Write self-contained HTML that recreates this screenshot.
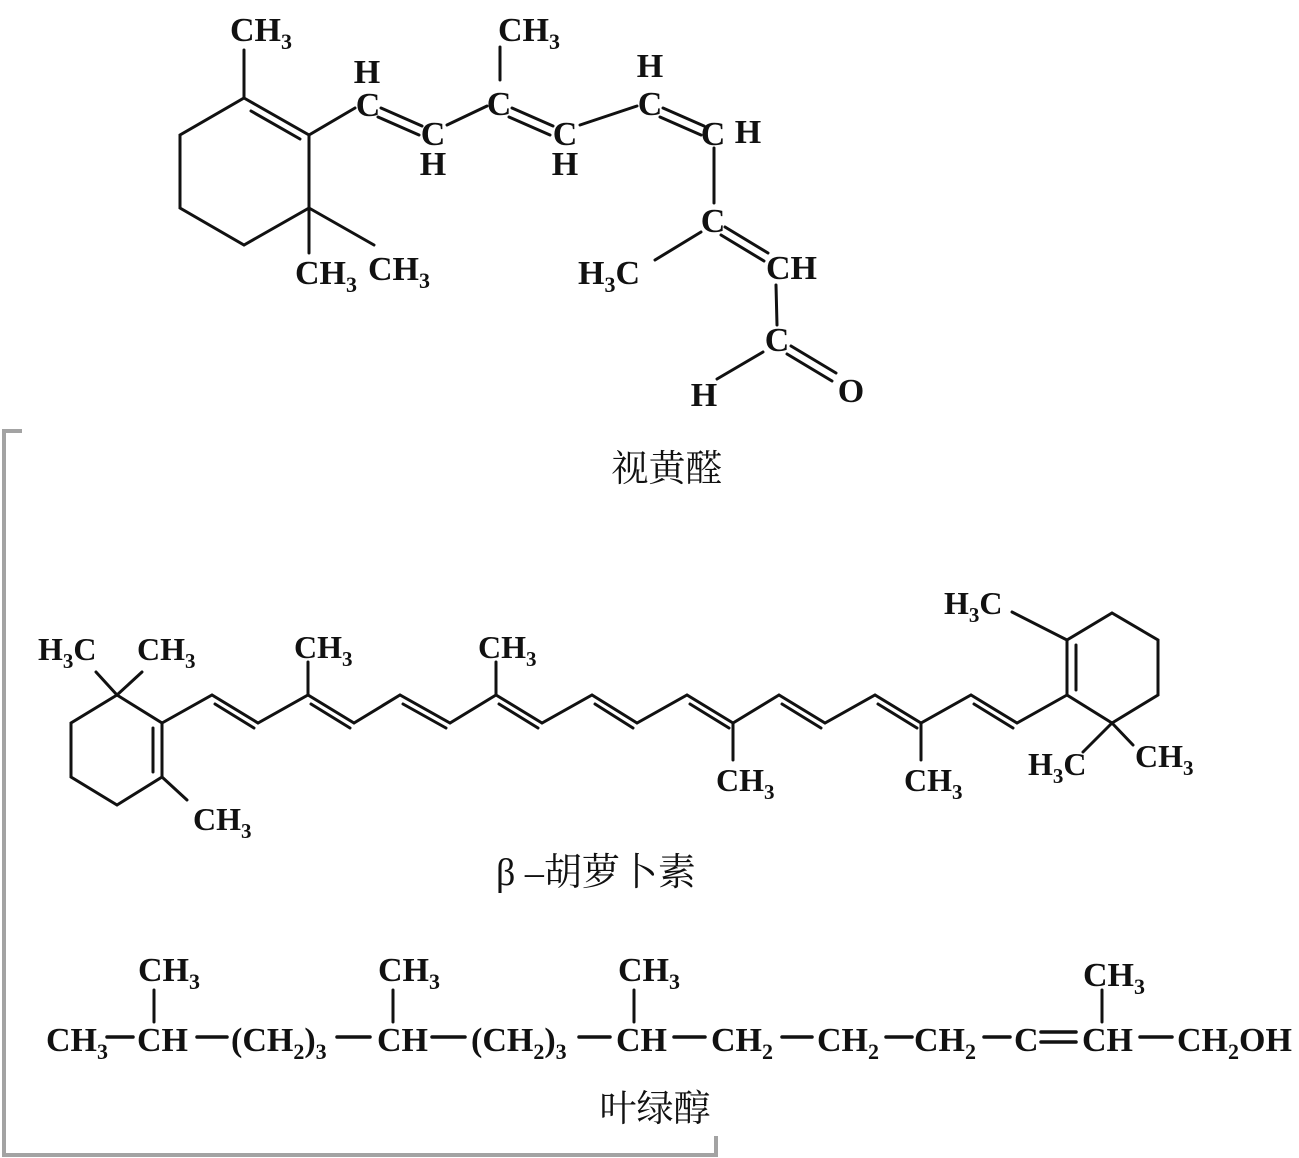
<!DOCTYPE html>
<html><head><meta charset="utf-8"><style>
html,body{margin:0;padding:0;background:#fff;}
svg{display:block;}
text{font-family:"Liberation Serif",serif;font-weight:bold;fill:#111;}
.cjk{font-family:"Liberation Serif","Noto Serif CJK SC","Noto Sans CJK SC",serif;font-weight:normal;}
</style></head><body>
<svg width="1299" height="1158" viewBox="0 0 1299 1158" xmlns="http://www.w3.org/2000/svg">
<g stroke="#111" stroke-width="3" fill="none" stroke-linecap="round">
<path d="M244,98 L309,135 L309,208 L244,245 L180,208 L180,135 Z"/>
<line x1="251" y1="111" x2="300" y2="139"/>
<line x1="244" y1="98" x2="244" y2="50"/>
<line x1="309" y1="208" x2="309" y2="253"/>
<line x1="309" y1="208" x2="374" y2="245"/>
<line x1="309" y1="135" x2="355" y2="108"/>
<line x1="381" y1="108" x2="422" y2="126"/><line x1="378" y1="117" x2="419" y2="135"/>
<line x1="447" y1="125" x2="487" y2="106"/>
<line x1="500" y1="47" x2="500" y2="80"/>
<line x1="512" y1="108" x2="553" y2="126"/><line x1="509" y1="117" x2="550" y2="135"/>
<line x1="580" y1="125" x2="637" y2="106"/>
<line x1="663" y1="108" x2="704" y2="126"/><line x1="660" y1="117" x2="701" y2="135"/>
<line x1="714" y1="148" x2="714" y2="203"/>
<line x1="701" y1="232" x2="655" y2="260"/>
<line x1="725" y1="227" x2="768" y2="253"/><line x1="721" y1="235" x2="764" y2="261"/>
<line x1="776" y1="285" x2="777" y2="325"/>
<line x1="763" y1="352" x2="717" y2="379"/>
<line x1="791" y1="346" x2="836" y2="373"/><line x1="787" y1="354" x2="832" y2="381"/>
<path d="M117,695 L162,723 L162,777 L117,805 L71,777 L71,723 Z"/>
<line x1="153" y1="728" x2="153" y2="772"/>
<line x1="117" y1="695" x2="96" y2="672"/><line x1="117" y1="695" x2="142" y2="672"/>
<line x1="162" y1="777" x2="187" y2="800"/>
<polyline points="162,723 212,695 258,723 308,695 354,723 400,695 450,723 496,695 542,723 592,695 637,723 687,695 733,723 779,695 825,723 875,695 921,723 971,695 1017,723 1067,695"/>
<line x1="215" y1="704" x2="254" y2="728"/>
<line x1="311" y1="704" x2="350" y2="728"/>
<line x1="403" y1="704" x2="446" y2="728"/>
<line x1="499" y1="704" x2="538" y2="728"/>
<line x1="595" y1="704" x2="633" y2="728"/>
<line x1="690" y1="704" x2="729" y2="728"/>
<line x1="782" y1="704" x2="821" y2="728"/>
<line x1="878" y1="704" x2="917" y2="728"/>
<line x1="974" y1="704" x2="1013" y2="728"/>
<line x1="308" y1="695" x2="308" y2="662"/><line x1="496" y1="695" x2="496" y2="662"/>
<line x1="733" y1="723" x2="733" y2="760"/><line x1="921" y1="723" x2="921" y2="760"/>
<path d="M1067,695 L1067,640 L1112,613 L1158,640 L1158,695 L1112,723 Z"/>
<line x1="1076" y1="645" x2="1076" y2="690"/>
<line x1="1067" y1="640" x2="1012" y2="612"/>
<line x1="1112" y1="723" x2="1083" y2="752"/><line x1="1112" y1="723" x2="1133" y2="745"/>
<line x1="154" y1="990" x2="154" y2="1022"/>
<line x1="393" y1="990" x2="393" y2="1022"/>
<line x1="634" y1="990" x2="634" y2="1022"/>
<line x1="1102" y1="990" x2="1102" y2="1022"/>
<g stroke-width="3.5">
<line x1="107" y1="1037" x2="133" y2="1037"/>
<line x1="197" y1="1037" x2="227" y2="1037"/>
<line x1="337" y1="1037" x2="370" y2="1037"/>
<line x1="432" y1="1037" x2="465" y2="1037"/>
<line x1="579" y1="1037" x2="610" y2="1037"/>
<line x1="674" y1="1037" x2="705" y2="1037"/>
<line x1="782" y1="1037" x2="812" y2="1037"/>
<line x1="886" y1="1037" x2="912" y2="1037"/>
<line x1="984" y1="1037" x2="1010" y2="1037"/>
<line x1="1041" y1="1032" x2="1076" y2="1032"/><line x1="1041" y1="1042" x2="1076" y2="1042"/>
<line x1="1140" y1="1037" x2="1172" y2="1037"/>
</g>
</g>
<path d="M22,431 L4,431 L4,1155 L716,1155 L716,1136" stroke="#a3a3a3" stroke-width="4" fill="none"/>

<g font-size="34">
<text x="230" y="41">CH<tspan font-size="22" dy="8">3</tspan></text>
<text x="295" y="284">CH<tspan font-size="22" dy="8">3</tspan></text>
<text x="368" y="280">CH<tspan font-size="22" dy="8">3</tspan></text>
<text x="498" y="41">CH<tspan font-size="22" dy="8">3</tspan></text>
<text x="367" y="83" text-anchor="middle">H</text>
<text x="368" y="116" text-anchor="middle">C</text>
<text x="433" y="145" text-anchor="middle">C</text>
<text x="433" y="175" text-anchor="middle">H</text>
<text x="499" y="115" text-anchor="middle">C</text>
<text x="565" y="145" text-anchor="middle">C</text>
<text x="565" y="175" text-anchor="middle">H</text>
<text x="650" y="77" text-anchor="middle">H</text>
<text x="650" y="115" text-anchor="middle">C</text>
<text x="713" y="145" text-anchor="middle">C</text>
<text x="748" y="143" text-anchor="middle">H</text>
<text x="713" y="232" text-anchor="middle">C</text>
<text x="578" y="284">H<tspan font-size="22" dy="8">3</tspan><tspan dy="-8">C</tspan></text>
<text x="766" y="279">CH</text>
<text x="777" y="351" text-anchor="middle">C</text>
<text x="704" y="406" text-anchor="middle">H</text>
<text x="851" y="402" text-anchor="middle">O</text>
</g>
<text class="cjk" x="667" y="481" font-size="37" text-anchor="middle">视黄醛</text>

<g font-size="32">
<text x="38" y="660">H<tspan font-size="21" dy="8">3</tspan><tspan dy="-8">C</tspan></text>
<text x="137" y="660">CH<tspan font-size="21" dy="8">3</tspan></text>
<text x="294" y="658">CH<tspan font-size="21" dy="8">3</tspan></text>
<text x="478" y="658">CH<tspan font-size="21" dy="8">3</tspan></text>
<text x="716" y="791">CH<tspan font-size="21" dy="8">3</tspan></text>
<text x="904" y="791">CH<tspan font-size="21" dy="8">3</tspan></text>
<text x="193" y="830">CH<tspan font-size="21" dy="8">3</tspan></text>
<text x="944" y="614">H<tspan font-size="21" dy="8">3</tspan><tspan dy="-8">C</tspan></text>
<text x="1028" y="775">H<tspan font-size="21" dy="8">3</tspan><tspan dy="-8">C</tspan></text>
<text x="1135" y="767">CH<tspan font-size="21" dy="8">3</tspan></text>
</g>
<text class="cjk" x="496" y="885" font-size="38">β –胡萝卜素</text>

<g font-size="34">
<text x="138" y="981">CH<tspan font-size="22" dy="8">3</tspan></text>
<text x="378" y="981">CH<tspan font-size="22" dy="8">3</tspan></text>
<text x="618" y="981">CH<tspan font-size="22" dy="8">3</tspan></text>
<text x="1083" y="986">CH<tspan font-size="22" dy="8">3</tspan></text>
<text x="46" y="1051">CH<tspan font-size="22" dy="8">3</tspan></text>
<text x="137" y="1051">CH</text>
<text x="231" y="1051">(CH<tspan font-size="22" dy="8">2</tspan><tspan dy="-8">)</tspan><tspan font-size="22" dy="8">3</tspan></text>
<text x="377" y="1051">CH</text>
<text x="471" y="1051">(CH<tspan font-size="22" dy="8">2</tspan><tspan dy="-8">)</tspan><tspan font-size="22" dy="8">3</tspan></text>
<text x="616" y="1051">CH</text>
<text x="711" y="1051">CH<tspan font-size="22" dy="8">2</tspan></text>
<text x="817" y="1051">CH<tspan font-size="22" dy="8">2</tspan></text>
<text x="914" y="1051">CH<tspan font-size="22" dy="8">2</tspan></text>
<text x="1014" y="1051">C</text>
<text x="1082" y="1051">CH</text>
<text x="1177" y="1051">CH<tspan font-size="22" dy="8">2</tspan><tspan dy="-8">OH</tspan></text>
</g>
<text class="cjk" x="655" y="1121" font-size="37" text-anchor="middle">叶绿醇</text>
</svg>
</body></html>
